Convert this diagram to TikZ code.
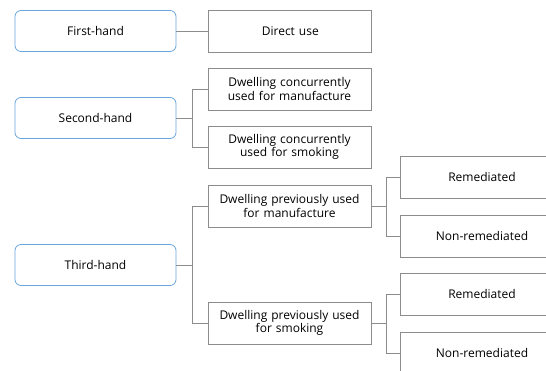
\documentclass[tikz,border=0pt]{standalone}
\usepackage{fontspec}
\setmainfont{Open Sans}
\usetikzlibrary{positioning}

\definecolor{boxblue}{HTML}{6AA5DC}
\definecolor{linegray}{HTML}{8C8C8C}

\begin{document}
\begin{tikzpicture}[x=1pt,y=-1pt,semithick,font=\fontsize{12}{13.5}\selectfont]
          \tikzstyle{kind}=[draw=boxblue,line width=0.8pt,rounded corners=6pt,minimum width=161pt,minimum height=41pt,align=center]
          \tikzstyle{use}=[draw=linegray,line width=0.8pt,minimum width=163pt,minimum height=42pt,align=center,text width=159pt,inner sep=2pt]
          \tikzstyle{link}=[draw=linegray,line width=0.8pt]
          \useasboundingbox (0,0) rectangle (546,371);
          \clip (0,0) rectangle (546,371);

          \node[kind] (first)  at (95.5,31)  {First-hand};
          \node[kind] (second) at (95.5,118) {Second-hand};
          \node[kind] (third)  at (95.5,265) {Third-hand};

          \node[use] (direct)   [right=32pt of first] {Direct use};
          \node[use] (ccman)    at (289.5,89)  {Dwelling concurrently\\used for manufacture};
          \node[use] (ccsmoke)  at (289.5,147) {Dwelling concurrently\\used for smoking};
          \node[use] (pvman)    at (289.5,206) {Dwelling previously used\\for manufacture};
          \node[use] (pvsmoke)  at (289.5,323) {Dwelling previously used\\for smoking};

          \node[use] (rem1) at (482,177) {Remediated};
          \node[use] (non1) at (482,236) {Non-remediated};
          \node[use] (rem2) at (482,294) {Remediated};
          \node[use] (non2) at (482,353) {Non-remediated};

          \path[link] (first) -- (direct);
          \path[link] (second.east) -- ++(16,0) |- (ccman.west);
          \path[link] (second.east) -- ++(16,0) |- (ccsmoke.west);
          \path[link] (third.east) -- ++(16,0) |- (pvman.west);
          \path[link] (third.east) -- ++(16,0) |- (pvsmoke.west);
          \path[link] (pvman.east) -- ++(15,0) |- (rem1.west);
          \path[link] (pvman.east) -- ++(15,0) |- (non1.west);
          \path[link] (pvsmoke.east) -- ++(15,0) |- (rem2.west);
          \path[link] (pvsmoke.east) -- ++(15,0) |- (non2.west);

        \end{tikzpicture}
\end{document}
